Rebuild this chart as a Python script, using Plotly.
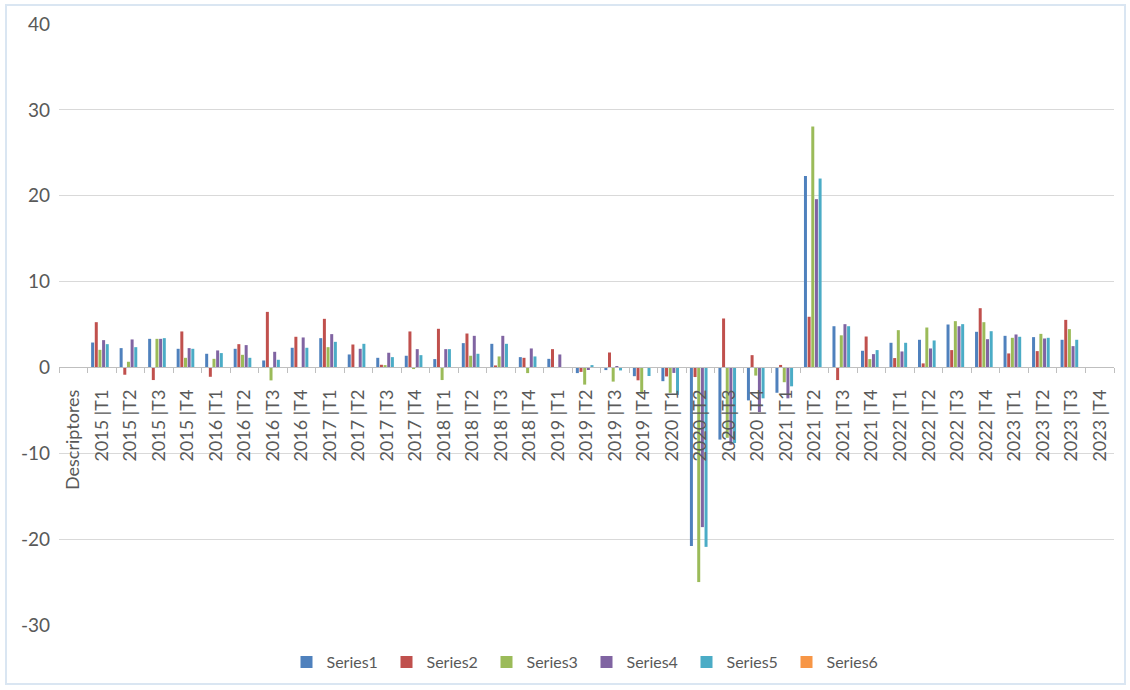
import plotly.graph_objects as go

categories = ["Descriptores"] + [f"{y} |T{q}" for y in range(2015, 2024) for q in range(1, 5)]

series1 = [None, 2.9, 2.25, 3.33, 2.17, 1.59, 2.17, 0.81, 2.29, 3.41, 1.51, 1.12, 1.36, 0.97, 2.83, 2.75, 1.2,
           1.0, -0.66, -0.31, -1.02, -1.6, -20.8, -8.4, -3.84, -2.95, 22.3, 4.8, 1.94, 2.87, 3.22, 5.0, 4.15,
           3.68, 3.53, 3.22, None]
series2 = [None, 5.27, -0.85, -1.47, 4.19, -1.09, 2.71, 6.47, 3.57, 5.66, 2.67, 0.31, 4.19, 4.5, 3.95, 0.23, 1.12,
           2.13, -0.52, 1.74, -1.5, -1.05, -1.12, 5.7, 1.43, 0.29, 5.9, -1.47, 3.6, 1.09, 0.47, 2.02, 6.9,
           1.63, 1.9, 5.54, None]
series3 = [None, 2.05, 0.66, 3.33, 1.12, 1.0, 1.47, -1.51, None, 2.36, None, 0.27, -0.19, -1.47, 1.36, 1.28, -0.66,
           None, -2.0, -1.65, -3.08, -2.96, -25.0, -8.2, -0.95, -1.72, 28.06, 3.74, 0.97, 4.34, 4.65, 5.39, 5.27,
           3.45, 3.91, 4.46, None]
series4 = [None, 3.18, 3.26, 3.33, 2.25, 1.98, 2.6, 1.82, 3.49, 3.88, 2.17, 1.71, 2.13, 2.13, 3.68, 3.68, 2.21,
           1.51, -0.3, 0.12, None, -0.64, -18.6, -9.0, -5.2, -3.6, 19.6, 5.04, 1.55, 1.86, 2.21, 4.8, 3.29,
           3.84, 3.37, 2.48, None]
series5 = [None, 2.71, 2.36, 3.41, 2.17, 1.67, 1.12, 0.89, 2.29, 2.98, 2.75, 1.2, 1.43, 2.13, 1.59, 2.75, 1.28,
           None, 0.27, -0.35, -1.0, -3.2, -20.9, -8.8, -3.6, -2.2, 22.0, 4.8, 2.02, 2.87, 3.14, 5.04, 4.22,
           3.57, 3.45, 3.22, None]
series6 = [None] * len(categories)

series_names = ["Series1", "Series2", "Series3", "Series4", "Series5", "Series6"]
series_values = [series1, series2, series3, series4, series5, series6]
colors = ["#4F81BD", "#C0504D", "#9BBB59", "#8064A2", "#4BACC6", "#F79646"]

y_tick_values = [-30, -20, -10, 0, 10, 20, 30, 40]
y_tick_labels = ["-30", "-20", "-10", "0", "10", "20", "30", "40"]

fig = go.Figure()
for name, vals, col in zip(series_names, series_values, colors):
    fig.add_trace(go.Bar(x=categories, y=vals, name=name, marker=dict(color=col, line=dict(width=0))))

W, H = 1130, 690
L, R, T, B = 59, 16, 24, 64
ymin, ymax = -30, 40
ph = H - T - B
pw = W - L - R

fig.update_layout(
    width=W, height=H,
    margin=dict(l=L, r=R, t=T, b=B),
    paper_bgcolor="white", plot_bgcolor="white",
    barmode="group", bargap=0.23, bargroupgap=0.18,
    font=dict(family="Lato, Open Sans, sans-serif", color="#595959"),
    showlegend=True,
    legend=dict(orientation="h", x=0.5, xanchor="center", y=(T + ph - 662) / ph, yanchor="middle",
                font=dict(size=16, color="#595959"), itemwidth=30, traceorder="normal",
                entrywidth=55, entrywidthmode="pixels"),
    xaxis=dict(type="category", anchor="free", position=(0 - ymin) / (ymax - ymin),
               showline=True, linecolor="#BFBFBF", linewidth=1,
               ticks="outside", tickson="boundaries", ticklen=5, tickcolor="#BFBFBF",
               tickangle=-90, tickfont=dict(size=18, color="#595959"), ticklabelstandoff=14,
               showgrid=False, zeroline=False),
    yaxis=dict(range=[ymin, ymax], tickmode="array", tickvals=y_tick_values, ticktext=y_tick_labels,
               showgrid=True, gridcolor="#D9D9D9", gridwidth=1,
               zeroline=False, showline=False, ticks="", tickfont=dict(size=19, color="#595959"),
               ticklabelstandoff=8),
    shapes=[dict(type="rect", xref="paper", yref="paper",
                 x0=(6 - L) / pw, x1=(1125 - L) / pw,
                 y0=(T + ph - 685) / ph, y1=(T + ph - 5) / ph,
                 line=dict(color="#DAE6F2", width=2), fillcolor="rgba(0,0,0,0)", layer="below")],
)

fig.write_html("out.html", config={"displayModeBar": False},
               post_script="document.body.style.margin='0';document.body.style.padding='0';")
